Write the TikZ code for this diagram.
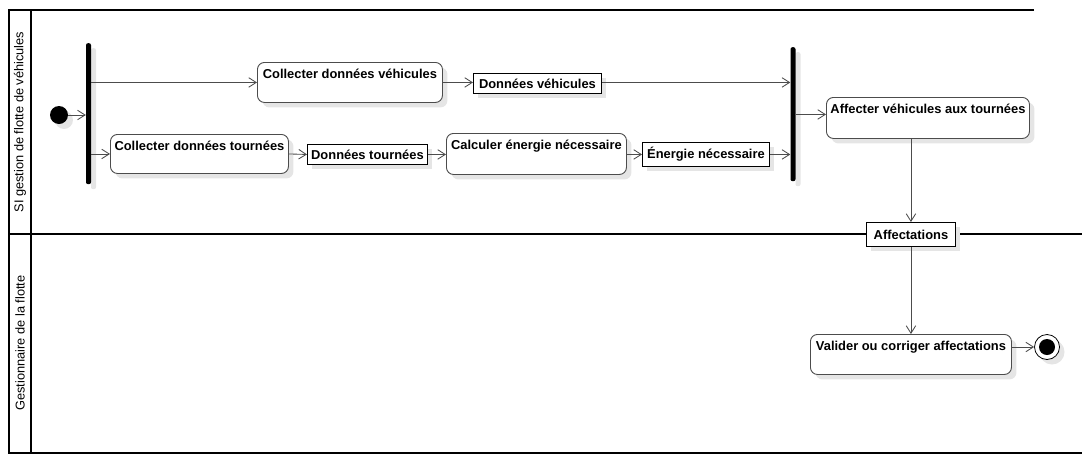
\documentclass[tikz,border=0pt]{standalone}
\usepackage{fontspec}
\setmainfont{Liberation Sans}
\usetikzlibrary{arrows.meta,shadows}
\begin{document}
\begin{tikzpicture}[x=1pt,y=-1pt,
  shade/.style={drop shadow={shadow xshift=5pt,shadow yshift=-5pt,fill=black!10,opacity=1}},
  lane/.style={line width=2pt,draw=black},
  lanelabel/.style={rotate=90,font=\fontsize{12.8}{15}\selectfont,inner sep=0pt},
  activity/.style={draw=black!70,line width=0.9pt,rounded corners=7pt,fill=white,shade,
    font=\bfseries\fontsize{12.9}{15}\selectfont,anchor=north west,inner xsep=0pt,inner ysep=0pt,
    text height=16.5pt,align=center},
  objbox/.style={draw=black,line width=0.9pt,fill=white,shade,
    font=\bfseries\fontsize{12.9}{15}\selectfont,anchor=north west,inner sep=0pt},
  bar/.style={fill=black,draw=none,rounded corners=2pt,minimum width=5pt,inner sep=0pt,anchor=north,shade},
  flow/.style={draw=black!70,line width=0.85pt,-{Straight Barb[length=7.5pt,width=9.5pt,line width=0.85pt]}}]
\useasboundingbox (0,0) rectangle (1092,464);
% swimlanes
\draw[lane] (1034,10) -- (9,10) -- (9,453) -- (1082,453);
\draw[lane] (31,10) -- (31,453);
\draw[lane] (9,234) -- (1082,234);
\node[lanelabel] (l1) at (20,122) {SI gestion de flotte de véhicules};
\node[lanelabel] (l2) at (20,343) {Gestionnaire de la flotte};
% nodes
\node[circle,fill=black,minimum size=18pt,inner sep=0pt,shade] (start) at (59,115) {};
\node[bar,minimum height=141pt] (bar1) at (88.5,43) {};
\node[bar,minimum height=134pt] (bar2) at (793,47) {};
\node[activity,minimum width=185pt,text depth=23.5pt] (cdv) at (257,62) {Collecter données véhicules};
\node[objbox,minimum width=128pt,minimum height=20pt] (dv) at (473,73) {Données véhicules};
\node[activity,minimum width=178pt,text depth=22.5pt] (cdt) at (110,134) {Collecter données tournées};
\node[objbox,minimum width=120pt,minimum height=20pt] (dt) at (307,144) {Données tournées};
\node[activity,minimum width=180pt,text depth=24.5pt] (cen) at (446,133) {Calculer énergie nécessaire};
\node[objbox,minimum width=127pt,minimum height=24pt] (en) at (642,142) {Énergie nécessaire};
\node[activity,minimum width=203pt,text depth=24.5pt] (avt) at (826,97) {Affecter véhicules aux tournées};
\node[objbox,minimum width=89pt,minimum height=24pt] (aff) at (866,222) {Affectations};
\node[activity,minimum width=201pt,text depth=23.5pt] (val) at (810,334) {Valider ou corriger affectations};
\node[circle,draw=black,line width=0.8pt,fill=white,minimum size=25pt,inner sep=0pt,shade,
  path picture={\fill[black] (path picture bounding box.center) circle (8pt);}] (end) at (1047,347) {};
\coordinate (avtin) at ([yshift=3.5pt]avt.west);
% connectors
\draw[flow] (start) -- (start -| bar1.west);
\draw[flow] (bar1.east |- cdv.west) -- (cdv.west);
\draw[flow] (bar1.east |- cdt.west) -- (cdt.west);
\draw[flow] (cdv.east) -- (dv.west |- cdv.east);
\draw[flow] (dv.east |- cdv.east) -- (bar2.west |- cdv.east);
\draw[flow] (cdt.east) -- (dt.west);
\draw[flow] (dt.east) -- (cen.west |- dt.east);
\draw[flow] (cen.east |- en.west) -- (en.west);
\draw[flow] (en.east) -- (bar2.west |- en.east);
\draw[flow] (bar2.east |- avtin) -- (avtin);
\draw[flow] (aff.north |- avt.south) -- (aff.north);
\draw[flow] (aff.south) -- (aff.south |- val.north);
\draw[flow] (val.east |- end.west) -- (end.west);
\end{tikzpicture}
\end{document}
